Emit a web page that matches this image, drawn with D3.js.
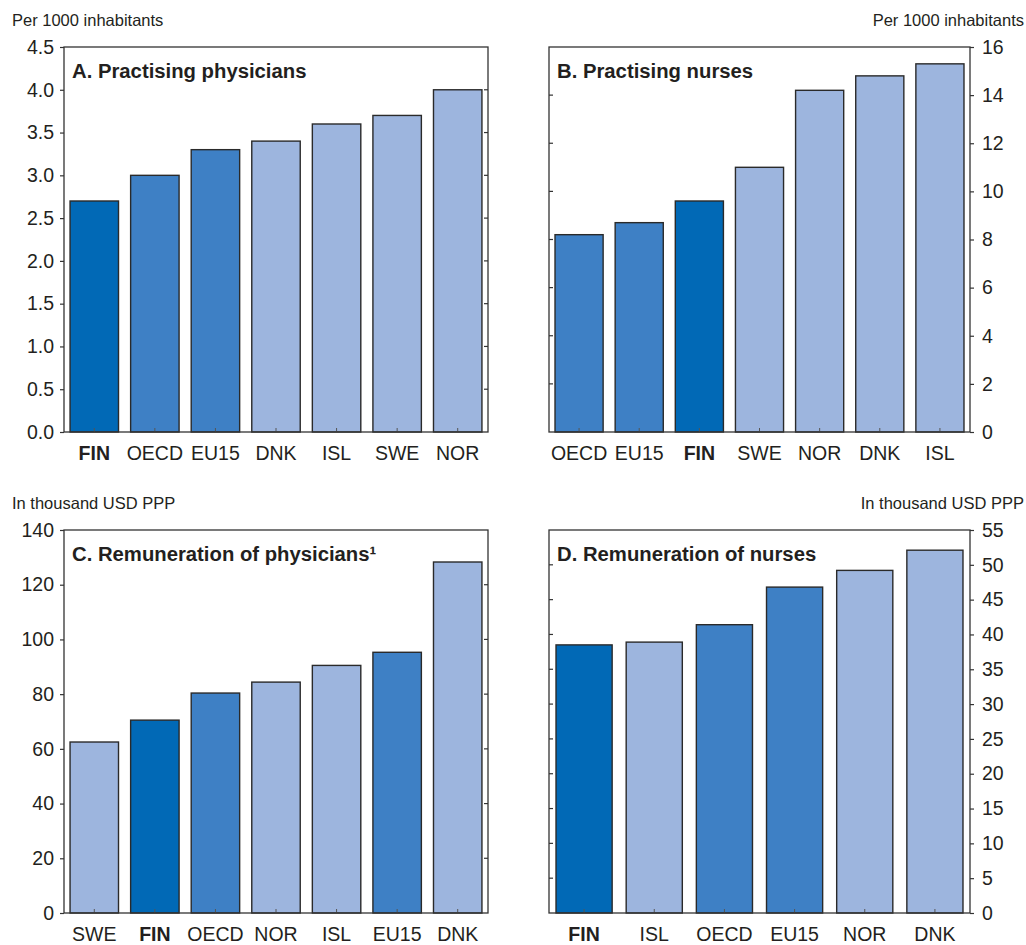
<!DOCTYPE html>
<html>
<head>
<meta charset="utf-8">
<script src="https://cdn.jsdelivr.net/npm/d3@7"></script>
<style>
  html, body { margin: 0; padding: 0; background: #fff; }
  svg { display: block; font-family: "Liberation Sans", Arial, sans-serif; }
</style>
</head>
<body>
<svg id="chart" width="1026" height="945"></svg>
<script>
// Panel A: practising physicians per 1000 inhabitants
const physCats = ["FIN", "OECD", "EU15", "DNK", "ISL", "SWE", "NOR"];
const physVals = [2.7, 3.0, 3.3, 3.4, 3.6, 3.7, 4.0];
const physTicks = [0, 0.5, 1.0, 1.5, 2.0, 2.5, 3.0, 3.5, 4.0, 4.5];

// Panel B: practising nurses per 1000 inhabitants
const nurseCats = ["OECD", "EU15", "FIN", "SWE", "NOR", "DNK", "ISL"];
const nurseVals = [8.2, 8.7, 9.6, 11.0, 14.2, 14.8, 15.3];
const nurseTicks = [0, 2, 4, 6, 8, 10, 12, 14, 16];

// Panel C: remuneration of physicians, thousand USD PPP
const physPayCats = ["SWE", "FIN", "OECD", "NOR", "ISL", "EU15", "DNK"];
const physPayVals = [62.5, 70.5, 80.4, 84.4, 90.5, 95.3, 128.3];
const physPayTicks = [0, 20, 40, 60, 80, 100, 120, 140];

// Panel D: remuneration of nurses, thousand USD PPP
const nursePayCats = ["FIN", "ISL", "OECD", "EU15", "NOR", "DNK"];
const nursePayVals = [38.5, 38.9, 41.4, 46.8, 49.2, 52.1];
const nursePayTicks = [0, 5, 10, 15, 20, 25, 30, 35, 40, 45, 50, 55];

const colorFor = c => c === "FIN" ? "#0169b6" : (c === "OECD" || c === "EU15") ? "#3e80c5" : "#9db5de";

const svg = d3.select("#chart");

function panel(opts) {
  const { x0, x1, y0, y1, cats, vals, ticks, fmt, side, title, unit } = opts;
  const g = svg.append("g");
  const x = d3.scaleBand().domain(cats).range([x0, x1]).paddingInner(0.2).paddingOuter(0.1);
  const y = d3.scaleLinear().domain([ticks[0], ticks[ticks.length - 1]]).range([y1, y0]);

  // bars
  g.selectAll("rect.bar").data(cats).join("rect")
    .attr("class", "bar")
    .attr("x", c => x(c))
    .attr("width", x.bandwidth())
    .attr("y", (c, i) => y(vals[i]))
    .attr("height", (c, i) => y(0) - y(vals[i]))
    .attr("fill", c => colorFor(c))
    .attr("stroke", "#2a2a2a")
    .attr("stroke-width", 1.4);

  // category tick marks at bar centres
  g.selectAll("line.ctick").data(cats).join("line")
    .attr("x1", c => x(c) + x.bandwidth() / 2)
    .attr("x2", c => x(c) + x.bandwidth() / 2)
    .attr("y1", y1).attr("y2", y1 - 4)
    .attr("stroke", "#555").attr("stroke-width", 1);

  // frame
  g.append("rect")
    .attr("x", x0).attr("y", y0).attr("width", x1 - x0).attr("height", y1 - y0)
    .attr("fill", "none").attr("stroke", "#333").attr("stroke-width", 1.3);

  // value axis on the labelled side, ticks outward
  const axis = side === "left"
    ? d3.axisLeft(y).tickValues(ticks).tickFormat(fmt).tickSize(4).tickPadding(6)
    : d3.axisRight(y).tickValues(ticks).tickFormat(fmt).tickSize(4).tickPadding(8);
  const ag = g.append("g")
    .attr("transform", `translate(${side === "left" ? x0 : x1},0)`)
    .call(axis);
  ag.select(".domain").remove();
  ag.selectAll(".tick line").attr("stroke", "#333").attr("stroke-width", 1.2);
  ag.selectAll(".tick text").attr("fill", "#231f20").attr("font-size", 19.5);

  // inward ticks on the opposite side
  const ox = side === "left" ? x1 : x0;
  const dir = side === "left" ? -1 : 1;
  g.selectAll("line.otick").data(ticks.slice(1, -1)).join("line")
    .attr("x1", ox).attr("x2", ox + dir * 4)
    .attr("y1", d => y(d)).attr("y2", d => y(d))
    .attr("stroke", "#333").attr("stroke-width", 1.2);

  // category labels
  g.selectAll("text.cat").data(cats).join("text")
    .attr("x", c => x(c) + x.bandwidth() / 2)
    .attr("y", y1 + 28)
    .attr("text-anchor", "middle")
    .attr("font-size", 19.5)
    .attr("font-weight", c => c === "FIN" ? "bold" : "normal")
    .attr("fill", "#231f20")
    .text(c => c);

  // panel title
  g.append("text")
    .attr("x", x0 + 8).attr("y", y0 + 31)
    .attr("font-size", 20.3).attr("font-weight", "bold").attr("fill", "#231f20")
    .text(title);

  // unit label
  g.append("text")
    .attr("x", side === "left" ? 12 : 1024)
    .attr("y", y0 - 21)
    .attr("text-anchor", side === "left" ? "start" : "end")
    .attr("font-size", 16.5).attr("fill", "#231f20")
    .text(unit);
}

panel({ x0: 64, x1: 488, y0: 47, y1: 432, cats: physCats, vals: physVals, ticks: physTicks,
  fmt: d3.format(".1f"), side: "left", title: "A. Practising physicians", unit: "Per 1000 inhabitants" });
panel({ x0: 549, x1: 970, y0: 47, y1: 432, cats: nurseCats, vals: nurseVals, ticks: nurseTicks,
  fmt: d3.format("d"), side: "right", title: "B. Practising nurses", unit: "Per 1000 inhabitants" });
panel({ x0: 64, x1: 488, y0: 530, y1: 913, cats: physPayCats, vals: physPayVals, ticks: physPayTicks,
  fmt: d3.format("d"), side: "left", title: "C. Remuneration of physicians\u00B9", unit: "In thousand USD PPP" });
panel({ x0: 549, x1: 970, y0: 530, y1: 913, cats: nursePayCats, vals: nursePayVals, ticks: nursePayTicks,
  fmt: d3.format("d"), side: "right", title: "D. Remuneration of nurses", unit: "In thousand USD PPP" });
</script>
</body>
</html>
